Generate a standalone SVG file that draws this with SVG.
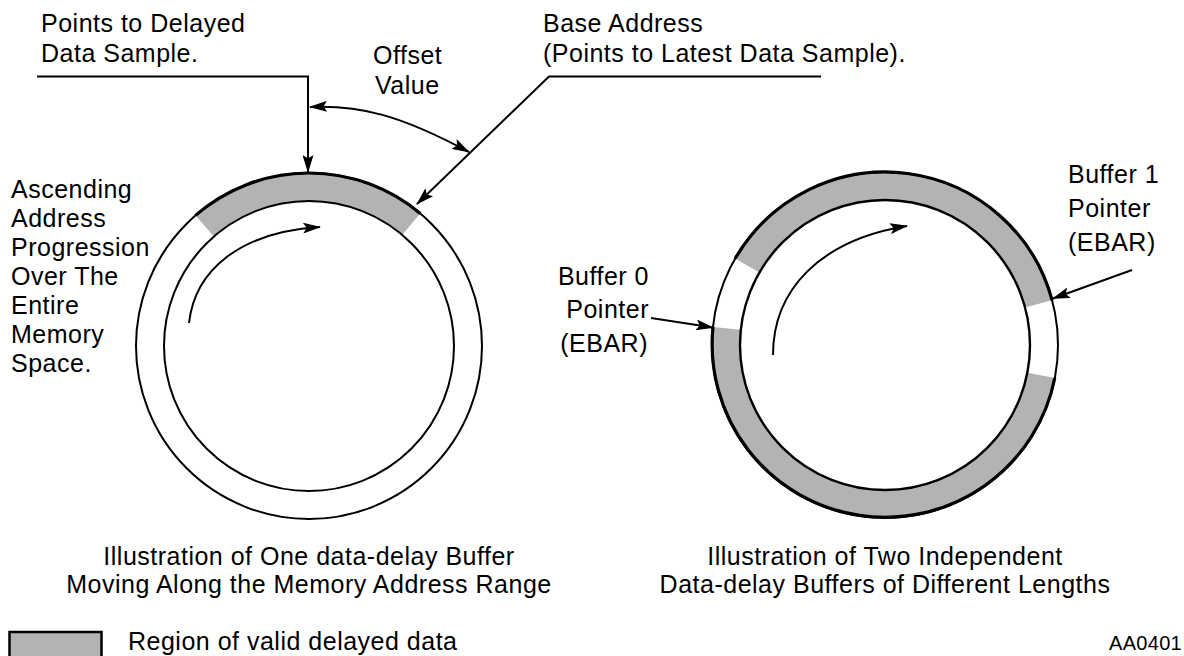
<svg xmlns="http://www.w3.org/2000/svg" width="1184" height="656" viewBox="0 0 1184 656">
<style>
  text { font-family: "Liberation Sans", Arial, Helvetica, sans-serif; font-size: 25px; letter-spacing: 0.5px; fill: #000; }
  .small { font-size: 20px; letter-spacing: 0.3px; }
  .mid { text-anchor: middle; }
  .end { text-anchor: end; }
  .band { fill: #b3b3b3; stroke: none; }
  .ring { fill: none; stroke: #000; stroke-width: 2; }
  .edge { fill: none; stroke: #000; stroke-width: 3.2; }
  .conn { fill: none; stroke: #000; stroke-width: 2; }
</style>
<defs>
  <marker id="ah" viewBox="0 0 18 11" refX="17" refY="5.5" markerWidth="18" markerHeight="11" markerUnits="userSpaceOnUse" orient="auto-start-reverse">
    <path d="M0,0 L18,5.5 L0,11 L3.5,5.5 Z" fill="#000"/>
  </marker>
</defs>
<rect x="0" y="0" width="1184" height="656" fill="#fff"/>

<g id="left-buffer">
  <path class="band" d="M195.5,215.4 A173,173 0 0 1 420.2,213.5 L402.2,234.9 A145,145 0 0 0 213.9,236.6 Z"/>
  <circle class="ring" cx="309" cy="346" r="173"/>
  <circle class="ring" cx="309" cy="346" r="145"/>
  <path class="edge" d="M195.5,215.4 A173,173 0 0 1 420.2,213.5"/>
</g>

<g id="right-buffer">
  <path class="band" d="M735.2,258.5 A173,173 0 0 1 1052.1,300.2 L1025.1,307.5 A145,145 0 0 0 759.4,272.5 Z"/>
  <path class="band" d="M1054.8,378 A173,173 0 0 1 713,326.9 L740.8,329.8 A145,145 0 0 0 1027.3,372.7 Z"/>
  <circle class="ring" cx="885" cy="345" r="173"/>
  <circle class="ring" cx="885" cy="345" r="145" style="stroke-width:2.4"/>
  <path class="edge" d="M735.2,258.5 A173,173 0 0 1 1052.1,300.2"/>
  <path class="edge" d="M1054.8,378 A173,173 0 0 1 713,326.9"/>
</g>

<g id="connectors">
  <path class="conn" d="M37,76.5 H308 V172" marker-end="url(#ah)"/>
  <path class="conn" d="M821,76.5 H549 L417,204" marker-end="url(#ah)"/>
  <path class="conn" d="M310,107 C360,105 400,115 469,152" marker-start="url(#ah)" marker-end="url(#ah)"/>
  <path class="conn" d="M189,323 C195,270 240,232 320,227" marker-end="url(#ah)"/>
  <path class="conn" d="M773,355 C773,290 820,240 907,226" marker-end="url(#ah)"/>
  <path class="conn" d="M651,318 L713,327.5" marker-end="url(#ah)"/>
  <path class="conn" d="M1132,270 L1053,298.5" marker-end="url(#ah)"/>
</g>

<g id="label-delayed">
  <text x="41" y="32">Points to Delayed</text>
  <text x="41" y="62">Data Sample.</text>
</g>
<g id="label-offset">
  <text x="373" y="64">Offset</text>
  <text x="375" y="94">Value</text>
</g>
<g id="label-base">
  <text x="543" y="32">Base Address</text>
  <text x="543" y="62">(Points to Latest Data Sample).</text>
</g>
<g id="label-ascending">
  <text x="11" y="198">Ascending</text>
  <text x="11" y="227">Address</text>
  <text x="11" y="256">Progression</text>
  <text x="11" y="285">Over The</text>
  <text x="11" y="314">Entire</text>
  <text x="11" y="343">Memory</text>
  <text x="11" y="372">Space.</text>
</g>
<g id="label-buffer0">
  <text class="end" x="649" y="285">Buffer 0</text>
  <text class="end" x="649" y="318">Pointer</text>
  <text class="end" x="648" y="352">(EBAR)</text>
</g>
<g id="label-buffer1">
  <text x="1068" y="183">Buffer 1</text>
  <text x="1068" y="217">Pointer</text>
  <text x="1068" y="251">(EBAR)</text>
</g>
<g id="caption-left">
  <text class="mid" x="309" y="565">Illustration of One data-delay Buffer</text>
  <text class="mid" x="309" y="593">Moving Along the Memory Address Range</text>
</g>
<g id="caption-right">
  <text class="mid" x="885" y="565">Illustration of Two Independent</text>
  <text class="mid" x="885" y="593">Data-delay Buffers of Different Lengths</text>
</g>
<g id="legend">
  <rect x="9.5" y="632" width="92" height="30" fill="#b3b3b3" stroke="#000" stroke-width="2.5"/>
  <text x="128" y="650">Region of valid delayed data</text>
</g>
<g id="figure-id">
  <text class="small" x="1109" y="650">AA0401</text>
</g>
</svg>
